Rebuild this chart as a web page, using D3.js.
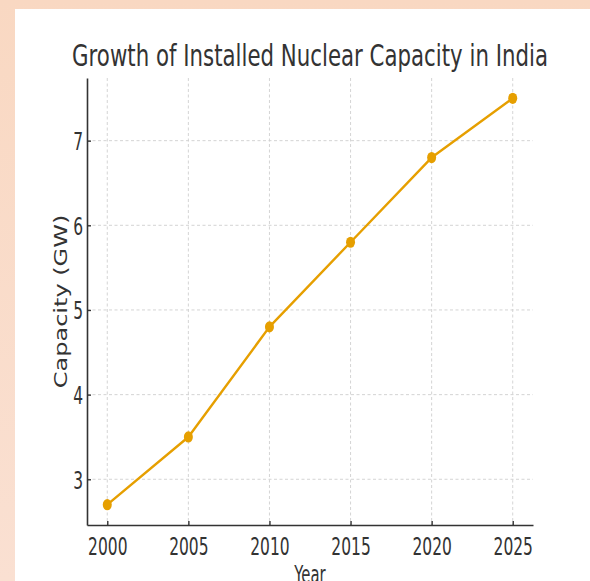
<!DOCTYPE html>
<html><head><meta charset="utf-8">
<script src="https://cdn.jsdelivr.net/npm/d3@7"></script>
<style>html,body{margin:0;padding:0;overflow:hidden;background:#F9D9C4;}svg{display:block;}</style>
</head><body>
<script>
const years = [2000, 2005, 2010, 2015, 2020, 2025];
const capacity = [2.7, 3.5, 4.8, 5.8, 6.8, 7.5];
const xTicks = [2000, 2005, 2010, 2015, 2020, 2025];
const yTicks = [3, 4, 5, 6, 7];
const title = "Growth of Installed Nuclear Capacity in India";
const xLabel = "Year";
const yLabel = "Capacity (GW)";

const W = 590, H = 581;
const svg = d3.select("body").append("svg").attr("width", W).attr("height", H);
const defs = svg.append("defs");
const grad = defs.append("linearGradient").attr("id","bg").attr("x1",0).attr("y1",0).attr("x2",0).attr("y2",1);
grad.append("stop").attr("offset","0%").attr("stop-color","#F9D8C2");
grad.append("stop").attr("offset","100%").attr("stop-color","#FAE0D2");
svg.append("rect").attr("width",W).attr("height",H).attr("fill","url(#bg)");
svg.append("rect").attr("x",15).attr("y",9).attr("width",W-15).attr("height",H-9).attr("fill","#fff");

const L = 87, R = 533, T = 78, B = 525;
const xPad = (d3.max(years) - d3.min(years)) * 0.05;
const yPad = (d3.max(capacity) - d3.min(capacity)) * 0.05;
const x = d3.scaleLinear().domain([d3.min(years) - xPad, d3.max(years) + xPad]).range([L, R]);
const y = d3.scaleLinear().domain([d3.min(capacity) - yPad, d3.max(capacity) + yPad]).range([B, T]);

const txt = "#333";
const font = "DejaVu Sans, sans-serif";
const sx = 0.62;

// grid
const grid = svg.append("g").attr("stroke","#cfcfcf").attr("stroke-width",0.9).attr("stroke-dasharray","3,2.5");
grid.selectAll("line.v").data(xTicks).enter().append("line")
  .attr("x1", d=>x(d)).attr("x2", d=>x(d)).attr("y1", T).attr("y2", B);
grid.selectAll("line.h").data(yTicks).enter().append("line")
  .attr("x1", L).attr("x2", R).attr("y1", d=>y(d)).attr("y2", d=>y(d));

// axes
const xAxis = d3.axisBottom(x).tickValues(xTicks).tickFormat(d3.format("d")).tickSizeInner(-4).tickSizeOuter(0).tickPadding(12);
const yAxis = d3.axisLeft(y).tickValues(yTicks).tickFormat(d3.format("d")).tickSizeInner(-4).tickSizeOuter(0).tickPadding(8);
const gx = svg.append("g").attr("transform", `translate(0,${B})`).call(xAxis);
const gy = svg.append("g").attr("transform", `translate(${L},0)`).call(yAxis);
[gx, gy].forEach(g => {
  g.select(".domain").attr("stroke", txt).attr("stroke-width", 1.6);
  g.selectAll(".tick line").attr("stroke", txt).attr("stroke-width", 1.4);
  g.selectAll(".tick text").attr("fill", txt).attr("font-family", font).attr("font-size", 25);
});
gx.selectAll(".tick text").attr("dy","0.71em").attr("transform", `scale(${sx},1)`);
gy.selectAll(".tick text").attr("x", -4/sx).attr("dy","0.36em").attr("transform", `scale(${sx},1)`);

// line
svg.append("path").datum(years.map((d,i)=>[d,capacity[i]]))
  .attr("fill","none").attr("stroke","#E69F00").attr("stroke-width",2.4).attr("stroke-linejoin","round")
  .attr("d", d3.line().x(d=>x(d[0])).y(d=>y(d[1])));
svg.append("g").selectAll("ellipse").data(years).enter().append("ellipse")
  .attr("cx",(d)=>x(d)).attr("cy",(d,i)=>y(capacity[i])).attr("rx",4.5).attr("ry",5.6).attr("fill","#E69F00");

// title
const cx = (L + R) / 2;
const t = svg.append("text").attr("font-family", font).attr("font-size", 31).attr("fill", txt)
  .attr("text-anchor","middle").text(title);
const tw = t.node().getComputedTextLength();
t.attr("transform", `translate(${cx},66) scale(${476/tw},1)`);

// x label
svg.append("text").attr("font-family", font).attr("font-size", 24).attr("fill", txt)
  .attr("text-anchor","middle").attr("transform", `translate(${cx},583) scale(${sx},1)`).text(xLabel);

// y label
svg.append("text").attr("font-family", font).attr("font-size", 24).attr("fill", txt)
  .attr("text-anchor","middle")
  .attr("transform", `translate(67,${(T+B)/2}) scale(0.75,1) rotate(-90)`).text(yLabel);
</script>
</body></html>
